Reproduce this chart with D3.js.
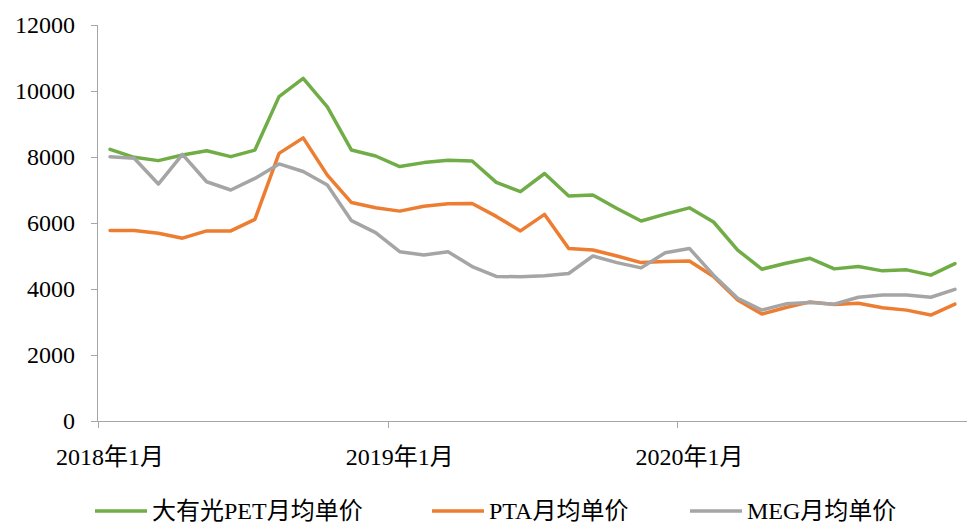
<!DOCTYPE html>
<html>
<head>
<meta charset="utf-8">
<script src="https://cdn.jsdelivr.net/npm/d3@7"></script>
<style>
  html, body { margin: 0; padding: 0; background: #fff; }
  svg { display: block; }
  text { font-family: "Liberation Serif", "Times New Roman", "Noto Sans CJK SC", serif; fill: #000; }
</style>
</head>
<body>
<svg id="chart" width="968" height="522"></svg>
<script>
// Months Jan 2018 – Dec 2020
const months = [];
for (let yr = 2018; yr <= 2020; yr++) for (let m = 1; m <= 12; m++) months.push(yr + "年" + m + "月");

const petPrice = [8230, 7990, 7890, 8060, 8190, 8010, 8210, 9830, 10380, 9520, 8210, 8030,
                  7710, 7830, 7900, 7880, 7230, 6950, 7500, 6820, 6850, 6440, 6060, 6270,
                  6460, 6030, 5180, 4600, 4780, 4930, 4610, 4680, 4550, 4580, 4420, 4770];
const ptaPrice = [5770, 5770, 5690, 5540, 5760, 5760, 6110, 8110, 8580, 7450, 6620, 6460,
                  6360, 6510, 6580, 6590, 6200, 5760, 6260, 5230, 5180, 5000, 4800, 4830,
                  4850, 4380, 3670, 3240, 3440, 3610, 3530, 3570, 3430, 3360, 3210, 3540];
const megPrice = [8010, 7960, 7180, 8080, 7250, 7000, 7350, 7790, 7560, 7150, 6070, 5710,
                  5130, 5030, 5130, 4680, 4380, 4370, 4400, 4470, 5000, 4800, 4640, 5100,
                  5230, 4420, 3720, 3360, 3550, 3590, 3540, 3750, 3820, 3820, 3750, 3990];

const seriesNames = ["大有光PET月均单价", "PTA月均单价", "MEG月均单价"];
const seriesColors = ["#70AD47", "#ED7D31", "#A5A5A5"];
const yTicks = [0, 2000, 4000, 6000, 8000, 10000, 12000];
const xTickLabels = ["2018年1月", "2019年1月", "2020年1月"];

const svg = d3.select("#chart");
const plotLeft = 98, plotRight = 967, plotTop = 25, plotBottom = 421;
const axisColor = "#A6A6A6";

const x = d3.scaleBand().domain(months).range([plotLeft, plotRight]).paddingInner(0).paddingOuter(0);
const y = d3.scaleLinear().domain([0, 12000]).range([plotBottom, plotTop]);

// Y axis
const yAxis = d3.axisLeft(y).tickValues(yTicks).tickSize(7).tickPadding(16).tickFormat(d3.format("d"));
const gy = svg.append("g").attr("transform", `translate(${plotLeft},0)`).call(yAxis);
gy.select(".domain").attr("stroke", axisColor).attr("d", `M-0.5,${plotBottom}V${plotTop}`);
gy.selectAll(".tick line").attr("stroke", axisColor);
gy.selectAll(".tick text").style("font-size", "24px")
  .style("font-family", '"Liberation Serif", "Times New Roman", serif').attr("fill", "#000");

// X axis line
svg.append("line").attr("x1", plotLeft - 7).attr("x2", plotRight).attr("y1", plotBottom + 0.5).attr("y2", plotBottom + 0.5)
  .attr("stroke", axisColor);

// Year boundary ticks and labels
xTickLabels.forEach(lbl => {
  const bx = Math.round(x(lbl)) + 0.5;
  svg.append("line").attr("x1", bx).attr("x2", bx).attr("y1", plotBottom).attr("y2", plotBottom + 7)
    .attr("stroke", axisColor);
  svg.append("text").attr("x", x(lbl) + x.bandwidth() / 2).attr("y", 465)
    .attr("text-anchor", "middle").style("font-size", "24px").text(lbl);
});

// Lines
const allSeries = [petPrice, ptaPrice, megPrice];
const line = d3.line().x((d, i) => x(months[i]) + x.bandwidth() / 2).y(d => y(d));
allSeries.forEach((vals, k) => {
  svg.append("path").datum(vals).attr("d", line).attr("fill", "none")
    .attr("stroke", seriesColors[k]).attr("stroke-width", 3.5)
    .attr("stroke-linejoin", "round").attr("stroke-linecap", "round");
});

// Legend
const legendX = [95, 432, 690];
seriesNames.forEach((name, k) => {
  const g = svg.append("g").attr("transform", `translate(${legendX[k]},511)`);
  g.append("line").attr("x1", 0).attr("x2", 52).attr("y1", 0).attr("y2", 0)
    .attr("stroke", seriesColors[k]).attr("stroke-width", 3.5);
  g.append("text").attr("x", 57).attr("y", 8).style("font-size", "24px").text(name);
});
</script>
</body>
</html>
